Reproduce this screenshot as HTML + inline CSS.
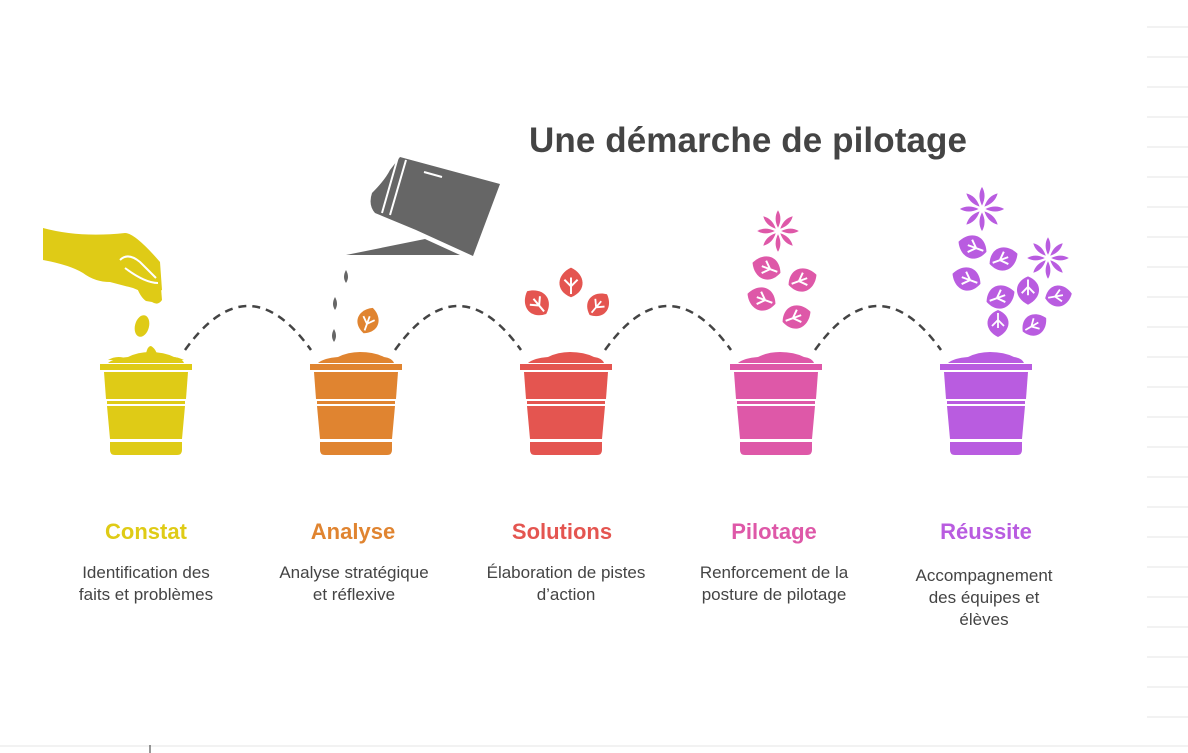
<!DOCTYPE html>
<html><head><meta charset="utf-8"><style>
body{margin:0;width:1188px;height:753px;background:#fff;overflow:hidden;position:relative;font-family:"Liberation Sans",Arial,sans-serif}
.t{position:absolute;text-align:center;width:200px}
.h{font-weight:bold;font-size:22px;top:519px}
.d{font-size:17px;line-height:22px;color:#444;top:562px}
</style></head><body>
<svg width="1188" height="753" style="position:absolute;left:0;top:0">
<defs>
<g id="pot">
<path d="M-38,363 Q-32,358 -18,357 Q-8,352 4,352 Q18,352 28,357 Q36,358 38,363 Z"/>
<rect x="-46" y="364" width="92" height="6"/>
<path d="M-42,372 H42 L40,399 H-40 Z"/>
<rect x="-39" y="401" width="78" height="3"/>
<path d="M-39,406 H39 L36,439 H-36 Z"/>
<path d="M-36,442 H36 V450 Q36,455 31,455 H-31 Q-36,455 -36,450 Z"/>
</g>
<g id="leaf"><path d="M0,-14 C13,-8 15,7 0,13 C-15,7 -13,-8 0,-14Z"/><path d="M0,10 V-5 M0,3 L-6,-3 M0,3 L6,-3" stroke="#fff" stroke-width="1.8" fill="none"/></g>
<g id="flower"><g id="pet"><path d="M0,-2 Q-3,-8 0,-13 Q3,-8 0,-2Z"/></g><use href="#pet" transform="rotate(45)"/><use href="#pet" transform="rotate(90)"/><use href="#pet" transform="rotate(135)"/><use href="#pet" transform="rotate(180)"/><use href="#pet" transform="rotate(225)"/><use href="#pet" transform="rotate(270)"/><use href="#pet" transform="rotate(315)"/></g>
</defs>
<g fill="none" stroke="#444" stroke-width="2.5" stroke-dasharray="8,6">
<path d="M185,350 Q248,262 311,350"/><path d="M395,350 Q458,262 521,350"/><path d="M605,350 Q668,262 731,350"/><path d="M815,350 Q878,262 941,350"/>
</g>
<use href="#pot" x="146" fill="#DFCB16"/>
<use href="#pot" x="356" fill="#E08430"/>
<use href="#pot" x="566" fill="#E45550"/>
<use href="#pot" x="776" fill="#DE58A8"/>
<use href="#pot" x="986" fill="#B95CE0"/>
<!-- hand -->
<g fill="#DFCB16">
<path d="M43,228 Q80,238 125,233 Q135,233 160,262 L162,290 Q150,296 133,288 L110,282 Q95,282 83,273 Q70,265 43,260 Z"/>
<path d="M136,285 L161,288 L162,300 Q158,306 152,302 L146,301 Q140,297 136,285 Z"/>
<ellipse cx="142" cy="326" rx="7" ry="11" transform="rotate(15 142 326)"/>
<path d="M145,362 Q146,346 151,346 Q158,350 158,362Z"/>
<path d="M108,360 Q118,354 130,360Z M162,360 Q172,354 184,360Z"/>
</g>
<path d="M120,260 Q128,252 140,262 L156,278 M125,268 Q145,283 158,283" stroke="#fff" stroke-width="2" fill="none"/>
<!-- watering can -->
<g fill="#666">
<path d="M400,157 L500,184 L473,256 L416,230 L375,213 Q368,205 372,193 Q385,180 390,170 Z"/>
<path d="M346,255 L425,239 L460,255 Z"/>
<path d="M346,270 q4,7 0,13 q-4,-6 0,-13Z"/><path d="M335,297 q4,7 0,13 q-4,-6 0,-13Z"/><path d="M334,329 q4,7 0,13 q-4,-6 0,-13Z"/>
</g>
<path d="M398,157 L382,213 M406,160 L390,215 M424,172 L442,177" stroke="#fff" stroke-width="2"/>
<g fill="#E08430"><use href="#leaf" transform="translate(368,321) rotate(20)"/></g>
<g fill="#E45550"><use href="#leaf" transform="translate(571,283) rotate(0) scale(1.1)"/><use href="#leaf" transform="translate(537,303) rotate(-40) scale(1.1)"/><use href="#leaf" transform="translate(598,305) rotate(40) scale(1)"/></g>
<g fill="#DE58A8"><use href="#flower" transform="translate(778,231) scale(1.6)"/><use href="#leaf" transform="translate(767,268) rotate(-70) scale(1.1)"/><use href="#leaf" transform="translate(802,280) rotate(70) scale(1.1)"/><use href="#leaf" transform="translate(762,299) rotate(-70) scale(1.1)"/><use href="#leaf" transform="translate(796,317) rotate(70) scale(1.1)"/></g>
<g fill="#B95CE0"><use href="#flower" transform="translate(982,209) scale(1.7)"/><use href="#flower" transform="translate(1048,258) scale(1.6)"/>
<use href="#leaf" transform="translate(973,247) rotate(-70) scale(1.1)"/><use href="#leaf" transform="translate(1003,259) rotate(70) scale(1.1)"/><use href="#leaf" transform="translate(967,279) rotate(-70) scale(1.1)"/><use href="#leaf" transform="translate(1000,297) rotate(70) scale(1.1)"/><use href="#leaf" transform="translate(1028,290) rotate(180) scale(1.05)"/><use href="#leaf" transform="translate(1058,296) rotate(80) scale(1)"/><use href="#leaf" transform="translate(998,323) rotate(180) scale(1)"/><use href="#leaf" transform="translate(1034,325) rotate(60) scale(1)"/></g>
<g stroke="#eee" stroke-width="1.5">
<path d="M1147,27H1188M1147,57H1188M1147,87H1188M1147,117H1188M1147,147H1188M1147,177H1188M1147,207H1188M1147,237H1188M1147,267H1188M1147,297H1188M1147,327H1188M1147,357H1188M1147,387H1188M1147,417H1188M1147,447H1188M1147,477H1188M1147,507H1188M1147,537H1188M1147,567H1188M1147,597H1188M1147,627H1188M1147,657H1188M1147,687H1188M1147,717H1188"/>
<path d="M0,746H1188"/>
</g>
<path d="M150,745V753" stroke="#333" stroke-width="1"/>
<text x="748" y="152" text-anchor="middle" font-family="Liberation Sans, sans-serif" font-weight="bold" font-size="35" fill="#444" textLength="438">Une démarche de pilotage</text>
</svg>
<div class="t h" style="left:46px;color:#DFCB16">Constat</div>
<div class="t h" style="left:253px;color:#E08430">Analyse</div>
<div class="t h" style="left:462px;color:#E45550">Solutions</div>
<div class="t h" style="left:674px;color:#DE58A8">Pilotage</div>
<div class="t h" style="left:886px;color:#B95CE0">Réussite</div>
<div class="t d" style="left:46px">Identification des<br>faits et problèmes</div>
<div class="t d" style="left:254px">Analyse stratégique<br>et réflexive</div>
<div class="t d" style="left:466px">Élaboration de pistes<br>d’action</div>
<div class="t d" style="left:674px">Renforcement de la<br>posture de pilotage</div>
<div class="t d" style="left:884px;top:565px">Accompagnement<br>des équipes et<br>élèves</div>
</body></html>
